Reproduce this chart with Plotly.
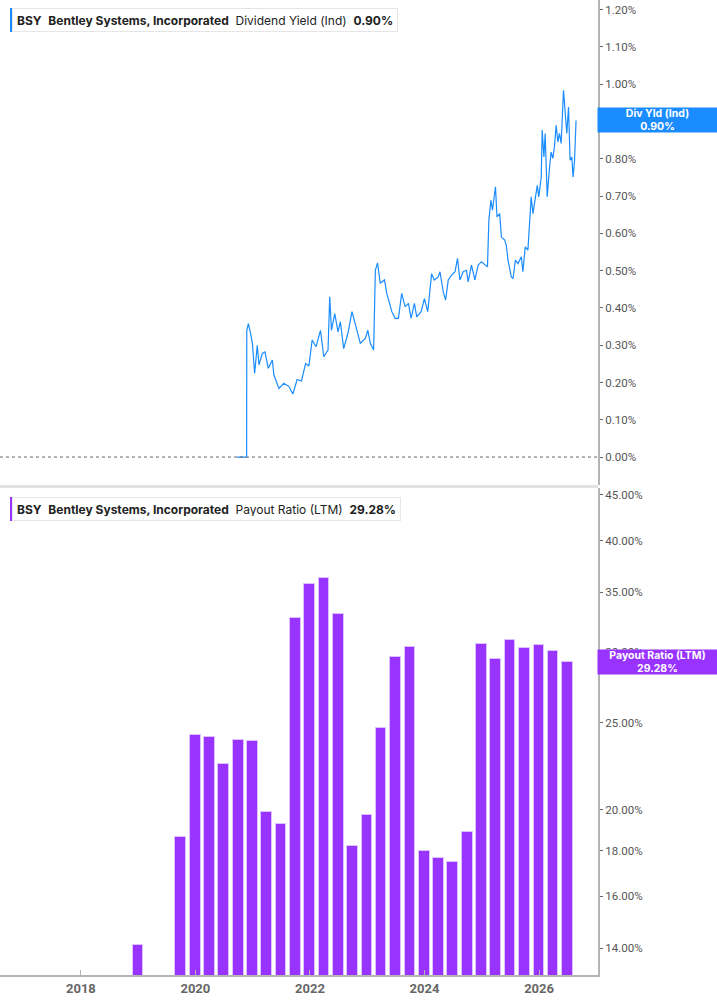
import math
import plotly.graph_objects as go

# Dividend yield (Ind), %
yield_dates = [
    '2020-09-23', '2020-11-23', '2020-11-24', '2020-12-04', '2020-12-19', '2020-12-30',
    '2021-01-13', '2021-01-30', '2021-02-10', '2021-03-03', '2021-03-20', '2021-04-10',
    '2021-05-06', '2021-05-16', '2021-06-17', '2021-07-19', '2021-08-20', '2021-09-14',
    '2021-10-11', '2021-11-08', '2021-12-04', '2021-12-25', '2022-01-15', '2022-02-09',
    '2022-03-09', '2022-03-30', '2022-04-26', '2022-05-07', '2022-05-18', '2022-06-08',
    '2022-06-29', '2022-07-14', '2022-08-04', '2022-08-31', '2022-09-26', '2022-10-28',
    '2022-11-18', '2022-12-20', '2023-01-05', '2023-01-21', '2023-02-11', '2023-02-22',
    '2023-03-08', '2023-03-25', '2023-04-21', '2023-05-06', '2023-06-07', '2023-06-28',
    '2023-07-19', '2023-08-09', '2023-08-31', '2023-09-21', '2023-10-08', '2023-10-29',
    '2023-11-13', '2023-12-11', '2024-01-01', '2024-01-22', '2024-02-16', '2024-03-04',
    '2024-03-29', '2024-04-09', '2024-04-30', '2024-05-15', '2024-06-01', '2024-06-22',
    '2024-07-14', '2024-07-30', '2024-08-14', '2024-09-04', '2024-09-25', '2024-10-06',
    '2024-10-27', '2024-11-18', '2024-12-09', '2024-12-30', '2025-01-20', '2025-02-06',
    '2025-02-15', '2025-02-28', '2025-03-10', '2025-03-21', '2025-03-29', '2025-04-08',
    '2025-04-25', '2025-05-06', '2025-05-27', '2025-06-06', '2025-06-17', '2025-07-08',
    '2025-07-19', '2025-08-03', '2025-08-20', '2025-09-10', '2025-09-20', '2025-10-05',
    '2025-10-22', '2025-11-12', '2025-11-23', '2025-12-08', '2025-12-21', '2025-12-30',
    '2026-01-15', '2026-01-21', '2026-02-01', '2026-02-09', '2026-02-22', '2026-03-09',
    '2026-03-19', '2026-03-30', '2026-04-10', '2026-04-20', '2026-05-01', '2026-05-11',
    '2026-05-22', '2026-06-06', '2026-06-16', '2026-06-27', '2026-07-08', '2026-07-18',
    '2026-07-29', '2026-08-06', '2026-08-15', '2026-08-25',
]
yield_values = [
    0.0, 0.0, 0.34, 0.358, 0.33, 0.305,
    0.224, 0.30, 0.247, 0.278, 0.282, 0.238,
    0.26, 0.22, 0.184, 0.198, 0.189, 0.169,
    0.208, 0.204, 0.251, 0.244, 0.314, 0.296,
    0.34, 0.269, 0.287, 0.43, 0.34, 0.385,
    0.336, 0.363, 0.291, 0.332, 0.39, 0.34,
    0.305, 0.318, 0.34, 0.305, 0.287, 0.501,
    0.521, 0.466, 0.475, 0.439, 0.39, 0.372,
    0.372, 0.439, 0.403, 0.412, 0.372, 0.412,
    0.376, 0.39, 0.425, 0.39, 0.492, 0.475,
    0.483, 0.497, 0.443, 0.421, 0.475, 0.488,
    0.497, 0.533, 0.475, 0.497, 0.501, 0.47,
    0.515, 0.475, 0.515, 0.524, 0.515, 0.51,
    0.635, 0.689, 0.662, 0.707, 0.725, 0.644,
    0.653, 0.59, 0.582, 0.568, 0.528, 0.483,
    0.479, 0.528, 0.519, 0.537, 0.497, 0.564,
    0.555, 0.698, 0.653, 0.694, 0.729, 0.698,
    0.751, 0.877, 0.805, 0.868, 0.698, 0.778,
    0.818, 0.801, 0.836, 0.89, 0.845, 0.868,
    0.841, 0.984, 0.93, 0.868, 0.939, 0.796,
    0.805, 0.751, 0.792, 0.903,
]

# Payout ratio (LTM), %
payout_dates = [
    '2018-12-31',
    '2019-09-30', '2019-12-31', '2020-03-31', '2020-06-30', '2020-09-30', '2020-12-31',
    '2021-03-31', '2021-06-30', '2021-09-30', '2021-12-31', '2022-03-31', '2022-06-30',
    '2022-09-30', '2022-12-31', '2023-03-31', '2023-06-30', '2023-09-30', '2023-12-31',
    '2024-03-31', '2024-06-30', '2024-09-30', '2024-12-31', '2025-03-31', '2025-06-30',
    '2025-09-30', '2025-12-31', '2026-03-31', '2026-06-30',
]
payout_values = [
    14.11,
    18.64, 24.24, 24.12, 22.50, 23.93, 23.87,
    19.88, 19.27, 32.77, 35.77, 36.33, 33.11,
    18.21, 19.72, 24.68, 29.64, 30.41, 17.98,
    17.65, 17.48, 18.88, 30.65, 29.49, 30.97,
    30.33, 30.57, 30.10, 29.28,
]

year_ticks = ['2018', '2020', '2022', '2024', '2026']
yield_ticks = [i / 10 for i in range(13)]
payout_ticks = [14, 16, 18, 20, 25, 30, 35, 40, 45]

W, H = 717, 1005
MR, MB = 119, 30
PW, PH = W - MR, H - MB

BLUE = '#1a8cff'
PURPLE = '#9933ff'
AXIS = '#b5b5b5'
TXT = '#555555'


def fx(p):
    return p / PW


def fy(p):
    return 1 - p / PH


fig = go.Figure()

fig.add_trace(go.Scatter(
    x=yield_dates, y=yield_values, mode='lines',
    line=dict(color=BLUE, width=1.2),
    xaxis='x', yaxis='y', showlegend=False,
))

fig.add_trace(go.Bar(
    x=payout_dates, y=payout_values,
    marker=dict(color=PURPLE, line=dict(color='#dcc0ff', width=1)),
    width=68 * 86400000,
    xaxis='x2', yaxis='y2', showlegend=False,
))

xrange = ['2016-08-03', '2027-01-12']
tickfont = dict(family='Roboto', size=11.5, color=TXT)

fig.update_layout(
    width=W, height=H,
    margin=dict(l=0, r=MR, t=0, b=MB),
    paper_bgcolor='white', plot_bgcolor='white',
    bargap=0,
    xaxis=dict(
        domain=[0, 1], anchor='y', range=xrange, type='date',
        showticklabels=False, showgrid=False, zeroline=False, matches='x2',
    ),
    xaxis2=dict(
        domain=[0, 1], anchor='y2', range=xrange, type='date',
        tickvals=[y + '-01-01' for y in year_ticks], ticktext=year_ticks,
        tickfont=dict(family='Roboto', size=13, color='#666666', weight='bold'),
        showgrid=False, zeroline=False, showline=True, linecolor=AXIS, linewidth=2,
        ticks='inside', ticklen=5, tickcolor=AXIS,
    ),
    yaxis=dict(
        domain=[1 - 485 / PH, 1], anchor='x', side='right',
        range=[-0.075, 1.226],
        tickvals=yield_ticks, ticktext=['%.2f%%' % v for v in yield_ticks],
        tickfont=tickfont, showgrid=False, zeroline=False,
        showline=True, linecolor=AXIS, linewidth=2,
        ticks='outside', ticklen=3, tickcolor='#666666',
    ),
    yaxis2=dict(
        domain=[0, 1 - 488 / PH], anchor='x2', side='right', type='log',
        range=[math.log10(13.06), math.log10(45.8)],
        tickvals=payout_ticks, ticktext=['%.2f%%' % v for v in payout_ticks],
        tickfont=tickfont, showgrid=False, zeroline=False,
        showline=True, linecolor=AXIS, linewidth=2,
        ticks='outside', ticklen=3, tickcolor='#666666',
    ),
)

shapes = [
    # zero line of the yield panel
    dict(type='line', xref='paper', yref='y', x0=0, x1=1, y0=0, y1=0,
         line=dict(color='#666666', width=1, dash='dot')),
    # separator between panels
    dict(type='line', xref='paper', yref='paper', x0=0, x1=1,
         y0=fy(486.5), y1=fy(486.5), line=dict(color='#e2e2e2', width=3)),
    # legend accent bars
    dict(type='rect', xref='paper', yref='paper', x0=fx(10), x1=fx(13),
         y0=fy(32), y1=fy(8), line=dict(width=0), fillcolor=BLUE),
    dict(type='rect', xref='paper', yref='paper', x0=fx(10), x1=fx(13),
         y0=fy(521), y1=fy(497), line=dict(width=0), fillcolor=PURPLE),
]
fig.update_layout(shapes=shapes)

sp = '&nbsp;&nbsp;'
legend_font = dict(family='Inter', size=12, color='#222222')
annotations = [
    dict(xref='paper', yref='paper', x=fx(12), y=fy(8), xanchor='left', yanchor='top',
         text='<b>BSY</b>' + sp + '<b>Bentley Systems, Incorporated</b>' + sp +
              'Dividend Yield (Ind)' + sp + '<b>0.90%</b>',
         showarrow=False, font=legend_font, bgcolor='white',
         bordercolor='#e6e6e6', borderwidth=1, borderpad=4, height=14),
    dict(xref='paper', yref='paper', x=fx(12), y=fy(497), xanchor='left', yanchor='top',
         text='<b>BSY</b>' + sp + '<b>Bentley Systems, Incorporated</b>' + sp +
              'Payout Ratio (LTM)' + sp + '<b>29.28%</b>',
         showarrow=False, font=legend_font, bgcolor='white',
         bordercolor='#e6e6e6', borderwidth=1, borderpad=4, height=14),
    dict(xref='paper', yref='y', x=1, y=yield_values[-1], xanchor='left', yanchor='middle',
         xshift=-1, text='<b>Div Yld (Ind)</b><br><b>%.2f%%</b>' % yield_values[-1],
         showarrow=False, font=dict(family='Inter', size=10.5, color='white'),
         bgcolor=BLUE, width=119, height=24, align='center', borderpad=0),
    dict(xref='paper', yref='y2', x=1, y=math.log10(payout_values[-1]),
         xanchor='left', yanchor='middle', xshift=-1,
         text='<b>Payout Ratio (LTM)</b><br><b>%.2f%%</b>' % payout_values[-1],
         showarrow=False, font=dict(family='Inter', size=10.5, color='white'),
         bgcolor=PURPLE, width=119, height=24, align='center', borderpad=0),
]
fig.update_layout(annotations=annotations)

fig.write_html('out.html', config={'displayModeBar': False},
               post_script="document.body.style.margin='0';")
